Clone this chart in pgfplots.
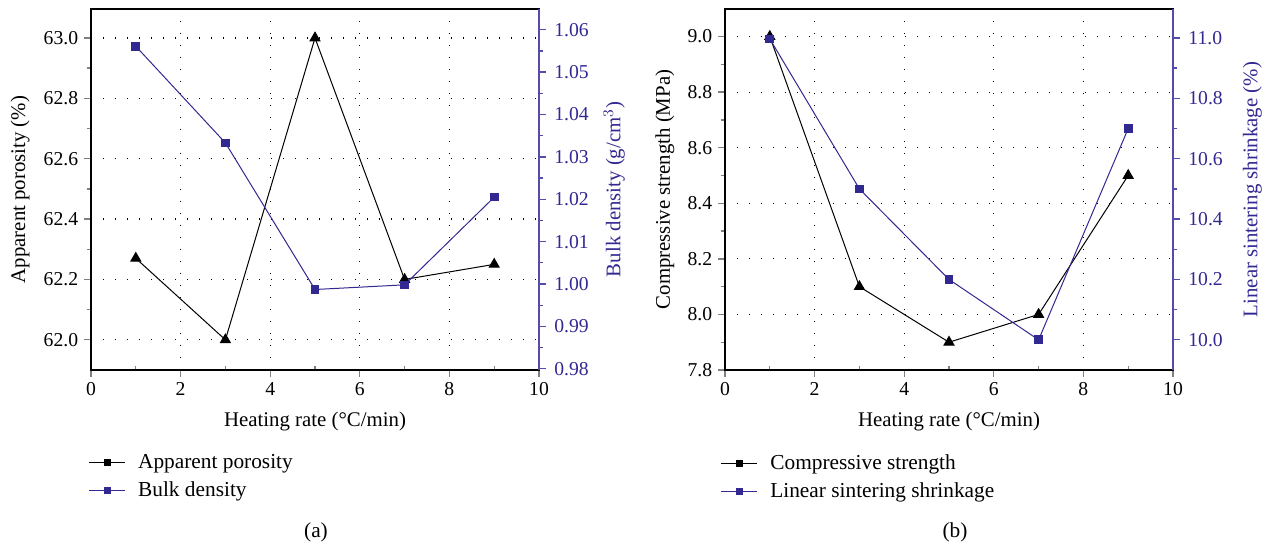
\documentclass[border=0pt]{standalone}
\usepackage{fontspec}
\setmainfont{Liberation Serif}
\usepackage{pgfplots}
\pgfplotsset{compat=1.18}
\definecolor{bd}{RGB}{50,40,145}
\definecolor{bdax}{RGB}{85,75,170}
\pgfplotsset{
  base/.style={
    scale only axis, width=268.8pt, height=216.6pt,
    xmin=0, xmax=10,
    /pgf/number format/assume math mode=true,
    tick label style={font=\fontsize{11.8}{13}\selectfont},
    label style={font=\fontsize{12.5}{15}\selectfont},
    tick align=outside,
    major tick length=4.2pt, minor tick length=2.6pt,
    axis line style={line width=0.9pt},
    tick style={line width=0.8pt},
    minor y tick num=1,
  },
  leftax/.style={base,
    xtick={0,2,4,6,8,10}, minor x tick num=1, xtick pos=left, ytick pos=left,
    minor x tick style={yshift=2.6pt},
    xmajorgrids, ymajorgrids,
    major grid style={black, line width=0.7pt, dash pattern=on 0.7pt off 6.5pt},
    xlabel={Heating rate (\textdegree C/min)},
    xlabel style={at={(axis description cs:0.5,-0.144)}, anchor=center},
    y tick label style={/pgf/number format/.cd, fixed, fixed zerofill, precision=1},
  },
  rightax/.style={base,
    axis x line=none, axis y line*=right,
    y axis line style={bdax, line width=0.9pt},
    ytick style={bdax, line width=0.8pt},
    yticklabel style={text=bd, xshift=1.5pt},
    ylabel style={text=bd},
    legend style={draw=none, fill=none, inner sep=0pt, row sep=3.5pt,
      font=\fontsize{12.8}{15}\selectfont, cells={anchor=west},
      nodes={inner sep=1.5pt}},
    /tikz/every odd column/.append style={column sep=6pt},
    legend image code/.code={\draw[mark repeat=2,mark phase=2,##1] plot coordinates {(0pt,0pt) (10.8pt,0pt) (21.6pt,0pt)};},
  },
}
\begin{document}
\begin{tikzpicture}
\useasboundingbox (0,0) rectangle (758.4pt,327.6pt);
% ---------- panel (a)
\begin{axis}[leftax, at={(54.6pt,105.6pt)}, anchor=south west,
  ymin=61.9, ymax=63.096, ytick={62.0,62.2,62.4,62.6,62.8,63.0},
  ylabel={Apparent porosity (\%)},
  ylabel style={at={(axis description cs:-0.158,0.5)}, anchor=center}]
\addplot[black, line width=0.6pt, mark=triangle*, mark size=3.4pt]
  coordinates {(1,62.27)(3,62.0)(5,63.0)(7,62.2)(9,62.25)};
\end{axis}
\begin{axis}[rightax, at={(54.6pt,105.6pt)}, anchor=south west,
  ymin=0.9797, ymax=1.0649,
  ytick={0.98,0.99,1.00,1.01,1.02,1.03,1.04,1.05,1.06},
  y tick label style={/pgf/number format/.cd, fixed, fixed zerofill, precision=2},
  ylabel={Bulk density (g/cm$^{3}$)},
  ylabel style={at={(axis description cs:1.168,0.5)}, anchor=center},
  legend style={at={(axis description cs:-0.006,-0.226)}, anchor=north west}]
\addplot[bd, line width=0.6pt, mark=square*, mark size=2.3pt, forget plot]
  coordinates {(1,1.0561)(3,1.0333)(5,0.9987)(7,0.9998)(9,1.0205)};
\addlegendimage{black, line width=0.6pt, mark=square*, mark size=1.8pt}
\addlegendentry{Apparent porosity}
\addlegendimage{bd, line width=0.6pt, mark=square*, mark size=1.8pt}
\addlegendentry{Bulk density}
\end{axis}
% ---------- panel (b)
\begin{axis}[leftax, at={(435pt,105.6pt)}, anchor=south west,
  ymin=7.8, ymax=9.099, ytick={7.8,8.0,8.2,8.4,8.6,8.8,9.0},
  ylabel={Compressive strength (MPa)},
  ylabel style={at={(axis description cs:-0.134,0.5)}, anchor=center}]
\addplot[black, line width=0.6pt, mark=triangle*, mark size=3.4pt]
  coordinates {(1,9.0)(3,8.1)(5,7.9)(7,8.0)(9,8.5)};
\end{axis}
\begin{axis}[rightax, at={(435pt,105.6pt)}, anchor=south west,
  ymin=9.90, ymax=11.096,
  ytick={10.0,10.2,10.4,10.6,10.8,11.0},
  y tick label style={/pgf/number format/.cd, fixed, fixed zerofill, precision=1},
  ylabel={Linear sintering shrinkage (\%)},
  ylabel style={at={(axis description cs:1.177,0.5)}, anchor=center},
  legend style={at={(axis description cs:-0.01,-0.226)}, anchor=north west}]
\addplot[bd, line width=0.6pt, mark=square*, mark size=2.3pt, forget plot]
  coordinates {(1,10.997)(3,10.5)(5,10.2)(7,10.0)(9,10.7)};
\addlegendimage{black, line width=0.6pt, mark=square*, mark size=1.8pt}
\addlegendentry{Compressive strength}
\addlegendimage{bd, line width=0.6pt, mark=square*, mark size=1.8pt}
\addlegendentry{Linear sintering shrinkage}
\end{axis}
\node[font=\fontsize{12.8}{15}\selectfont] at (189.6pt,8.4pt) {(a)};
\node[font=\fontsize{12.8}{15}\selectfont] at (573pt,8.4pt) {(b)};
\end{tikzpicture}
\end{document}
